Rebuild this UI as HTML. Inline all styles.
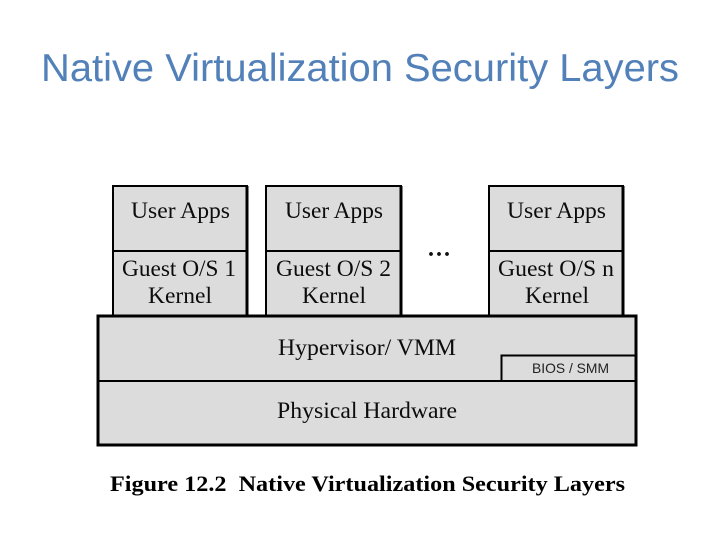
<!DOCTYPE html>
<html>
<head>
<meta charset="utf-8">
<style>
html,body{margin:0;padding:0;background:#fff;width:720px;height:540px;overflow:hidden}
svg{display:block}
.s{font-family:"Liberation Serif",serif;font-size:23.500px;fill:#0c0c0c}
</style>
</head>
<body>
<svg width="720" height="540" viewBox="0 0 720 540" xmlns="http://www.w3.org/2000/svg">
<rect width="720" height="540" fill="#fff"/>
<text x="41" y="81" font-family="'Liberation Sans',sans-serif" font-size="39" fill="#5280b8" textLength="638" lengthAdjust="spacingAndGlyphs">Native Virtualization Security Layers</text>

<g fill="#dcdcdc" stroke="#000" stroke-width="2">
<rect x="113" y="186" width="134" height="130"/>
<rect x="266" y="186" width="135" height="130"/>
<rect x="489" y="186" width="134" height="130"/>
</g>
<g stroke="#000">
<line x1="247" y1="186" x2="247" y2="316" stroke-width="3"/>
<line x1="401" y1="186" x2="401" y2="316" stroke-width="3"/>
<line x1="623" y1="186" x2="623" y2="316" stroke-width="3"/>
<line x1="113" y1="251" x2="247" y2="251" stroke-width="2"/>
<line x1="266" y1="251" x2="401" y2="251" stroke-width="2"/>
<line x1="489" y1="251" x2="623" y2="251" stroke-width="2"/>
</g>
<rect x="98" y="316" width="538" height="129" fill="#dcdcdc" stroke="#000" stroke-width="3"/>
<line x1="98" y1="381" x2="636" y2="381" stroke="#000" stroke-width="2"/>
<path d="M501.500 381V355.500H636" fill="none" stroke="#000" stroke-width="2"/>

<text class="s" x="131" y="218" textLength="99" lengthAdjust="spacingAndGlyphs">User Apps</text>
<text class="s" x="285" y="218" textLength="98" lengthAdjust="spacingAndGlyphs">User Apps</text>
<text class="s" x="507" y="218" textLength="99" lengthAdjust="spacingAndGlyphs">User Apps</text>
<text class="s" x="122" y="276" textLength="114" lengthAdjust="spacingAndGlyphs">Guest O/S 1</text>
<text class="s" x="276" y="276" textLength="115" lengthAdjust="spacingAndGlyphs">Guest O/S 2</text>
<text class="s" x="498" y="276" textLength="116" lengthAdjust="spacingAndGlyphs">Guest O/S n</text>
<text class="s" x="148" y="303" textLength="64" lengthAdjust="spacingAndGlyphs">Kernel</text>
<text class="s" x="302" y="303" textLength="64" lengthAdjust="spacingAndGlyphs">Kernel</text>
<text class="s" x="525" y="303" textLength="64" lengthAdjust="spacingAndGlyphs">Kernel</text>
<text x="428" y="256" font-family="'Liberation Serif',serif" font-size="24" font-weight="bold" fill="#111" textLength="22" lengthAdjust="spacing">...</text>
<text class="s" x="278" y="355" textLength="178" lengthAdjust="spacingAndGlyphs">Hypervisor/ VMM</text>
<text class="s" x="277" y="418" textLength="180" lengthAdjust="spacingAndGlyphs">Physical Hardware</text>
<text x="532" y="373" font-family="'Liberation Sans',sans-serif" font-size="14" fill="#222" textLength="77" lengthAdjust="spacingAndGlyphs">BIOS / SMM</text>
<text x="110" y="491" font-family="'Liberation Serif',serif" font-size="22.500" font-weight="bold" fill="#000" textLength="515" lengthAdjust="spacingAndGlyphs" xml:space="preserve">Figure 12.2  Native Virtualization Security Layers</text>
</svg>
</body>
</html>
